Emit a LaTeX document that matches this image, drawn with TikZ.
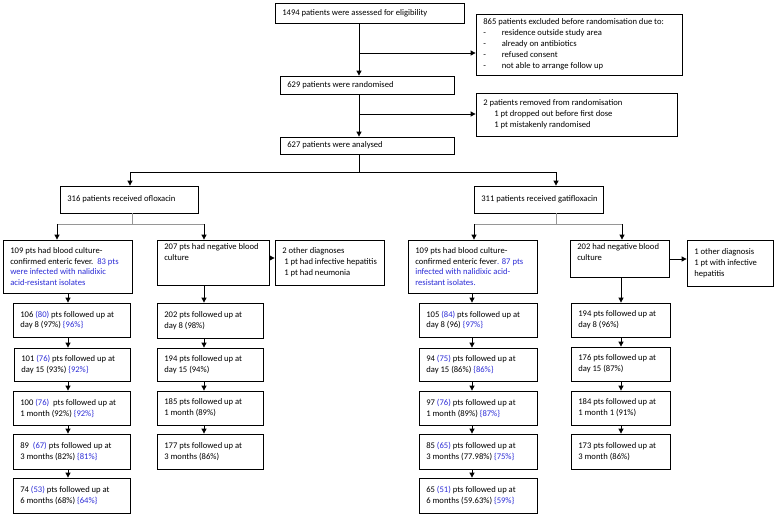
\documentclass[tikz,border=0pt]{standalone}
\usepackage{fontspec}
\setmainfont{Carlito}
\usetikzlibrary{arrows.meta,calc}
\definecolor{nalblue}{RGB}{45,45,215}
\definecolor{brgray}{RGB}{150,150,150}
\newcommand\blu[1]{\textcolor{nalblue}{#1}}
\newcommand\mybox[6]{%
  \node[box,minimum width={#4-#2},minimum height={#5-#3}] (#1) at ({(#2+#4)/2},{(#3+#5)/2}) {};
  \node[txt,anchor=west] (#1t) at ([xshift=7.5pt]#1.west) {#6};}
\newcommand\myboxt[6]{%
  \node[box,minimum width={#4-#2},minimum height={#5-#3}] (#1) at ({(#2+#4)/2},{(#3+#5)/2}) {};
  \node[txt,anchor=north west] (#1t) at ([xshift=7.5pt,yshift=-4pt]#1.north west) {#6};}
\tikzset{
  box/.style={draw=black,line width=0.8pt,inner sep=0pt,fill=white},
  txt/.style={inner sep=0pt,align=left,font=\fontsize{8.6}{10.9}\selectfont},
  arr/.style={line width=0.8pt,-{Triangle[length=5pt,width=5pt]}},
  ln/.style={line width=0.8pt},
  gln/.style={line width=0.8pt,draw=brgray},
}
\begin{document}
\begin{tikzpicture}[x=1pt,y=-1pt]
\useasboundingbox[fill=white] (0,0) rectangle (778,517);
% top part
\mybox{b1494}{275}{3}{464}{23}{1494 patients were assessed for eligibility}
\mybox{b865}{476}{14}{682}{75}{865 patients excluded before randomisation due to:\\
\makebox[18.5pt][l]{-}residence outside study area\\
\makebox[18.5pt][l]{-}already on antibiotics\\
\makebox[18.5pt][l]{-}refused consent\\
\makebox[18.5pt][l]{-}not able to arrange follow up}
\mybox{b629}{280}{76}{454}{94}{629 patients were randomised}
\mybox{b2rem}{476}{93}{677}{136}{2 patients removed from randomisation\\
\hspace*{11pt}1 pt dropped out before first dose\\
\hspace*{11pt}1 pt mistakenly randomised}
\mybox{b627}{280}{137}{454}{154}{627 patients were analysed}
\mybox{b316}{60}{186}{198}{213}{316 patients received ofloxacin}
\mybox{b311}{474}{186}{603}{213}{311 patients received gatifloxacin}
% third level
\mybox{bA}{3}{240}{132}{293}{109 pts had blood culture-\\
confirmed enteric fever.\ \ \blu{83 pts}\\
\blu{were infected with nalidixic}\\
\blu{acid-resistant isolates}}
\myboxt{bB}{157}{240}{269}{285}{207 pts had negative blood\\culture}
\mybox{bB2}{275}{240}{384}{285}{2 other diagnoses\\
\hspace*{2pt}1 pt had infective hepatitis\\
\hspace*{2pt}1 pt had neumonia}
\mybox{bC}{408}{240}{537}{293}{109 pts had blood culture-\\
confirmed enteric fever\blu{. 87 pts}\\
\blu{infected with nalidixic acid-}\\
\blu{resistant isolates.}}
\myboxt{bD}{570}{240}{669}{277}{202 had negative blood\\culture}
\mybox{bD2}{687}{240}{773}{286}{1 other diagnosis\\
1 pt with infective\\
hepatitis}
% ofloxacin follow-ups
\mybox{a1}{13}{303}{130}{337}{106 \blu{(80)} pts followed up at\\day 8 (97\%) \blu{\{96\%\}}}
\mybox{a2}{14}{348}{130}{381}{101 \blu{(76)} pts followed up at\\day 15 (93\%) \blu{\{92\%\}}}
\mybox{a3}{13}{391}{130}{425}{100 \blu{(76)}\ \ pts followed up at\\1 month (92\%) \blu{\{92\%\}}}
\mybox{a4}{13}{434}{130}{469}{89\ \ \blu{(67)} pts followed up at\\3 months (82\%) \blu{\{81\%\}}}
\mybox{a5}{13}{478}{130}{513}{74 \blu{(53)} pts followed up at\\6 months (68\%) \blu{\{64\%\}}}
\mybox{n1}{157}{303}{263}{338}{202 pts followed up at\\day 8 (98\%)}
\mybox{n2}{157}{348}{263}{381}{194 pts followed up at\\day 15 (94\%)}
\mybox{n3}{157}{391}{263}{425}{185 pts followed up at\\1 month (89\%)}
\mybox{n4}{157}{434}{263}{469}{177 pts followed up at\\3 months (86\%)}
% gatifloxacin follow-ups
\mybox{c1}{419}{303}{537}{337}{105 \blu{(84)} pts followed up at\\day 8 (96) \blu{\{97\%\}}}
\mybox{c2}{419}{348}{537}{381}{94 \blu{(75)} pts followed up at\\day 15 (86\%) \blu{\{86\%\}}}
\mybox{c3}{419}{391}{537}{425}{97 \blu{(76)} pts followed up at\\1 month (89\%) \blu{\{87\%\}}}
\mybox{c4}{419}{434}{537}{469}{85 \blu{(65)} pts followed up at\\3 months (77.98\%) \blu{\{75\%\}}}
\mybox{c5}{419}{478}{537}{513}{65 \blu{(51)} pts followed up at\\6 months (59.63\%) \blu{\{59\%\}}}
\mybox{m1}{571}{303}{670}{337}{194 pts followed up at\\day 8 (96\%)}
\mybox{m2}{571}{347}{670}{381}{176 pts followed up at\\day 15 (87\%)}
\mybox{m3}{571}{391}{670}{425}{184 pts followed up at\\1 month 1 (91\%)}
\mybox{m4}{571}{434}{670}{469}{173 pts followed up at\\3 month (86\%)}
% column coordinates
\coordinate (colM) at (359,0);
\coordinate (j1) at (359,53);
\coordinate (j2) at (359,114);
\coordinate (j3) at (359,172);
\coordinate (k1) at (130,172);
\coordinate (k2) at (556,172);
\coordinate (h1) at (132,224);
\coordinate (hA) at (57,224);
\coordinate (hB) at (204,224);
\coordinate (h2) at (556,224);
\coordinate (hC) at (474,224);
\coordinate (hD) at (622,224);
\coordinate (colA) at (68,0);
\coordinate (colB) at (204,0);
\coordinate (colC) at (472,0);
\coordinate (colD) at (621,0);
\coordinate (e1) at (269,258);
\coordinate (e2) at (669,259);
% connectors top
\draw[arr] (b1494.south -| colM) -- (b629.north -| colM);
\draw[arr] (j1) -- (j1 -| b865.west);
\draw[arr] (b629.south -| colM) -- (b627.north -| colM);
\draw[arr] (j2) -- (j2 -| b2rem.west);
\draw[ln] (b627.south -| colM) -- (j3);
\draw[ln] (k1) -- (k2);
\draw[arr] (k1) -- (k1 |- b316.north);
\draw[arr] (k2) -- (k2 |- b311.north);
% branches
\draw[gln] (b316.south -| h1) -- (h1);
\draw[gln] (hA) -- (hB);
\draw[arr] (hA) -- (hA |- bA.north);
\draw[arr] (hB) -- (hB |- bB.north);
\draw[gln] (b311.south -| h2) -- (h2);
\draw[gln] (hC) -- (hD);
\draw[arr] (hC) -- (hC |- bC.north);
\draw[arr] (hD) -- (hD |- bD.north);
\draw[arr] (e1 -| bB.east) -- (e1 -| bB2.west);
\draw[arr] (e2 -| bD.east) -- (e2 -| bD2.west);
% follow-up chains
\draw[arr] (bA.south -| colA) -- (a1.north -| colA);
\draw[arr] (a1.south -| colA) -- (a2.north -| colA);
\draw[arr] (a2.south -| colA) -- (a3.north -| colA);
\draw[arr] (a3.south -| colA) -- (a4.north -| colA);
\draw[arr] (a4.south -| colA) -- (a5.north -| colA);
\draw[arr] (bB.south -| colB) -- (n1.north -| colB);
\draw[arr] (n1.south -| colB) -- (n2.north -| colB);
\draw[arr] (n2.south -| colB) -- (n3.north -| colB);
\draw[arr] (n3.south -| colB) -- (n4.north -| colB);
\draw[arr] (bC.south -| colC) -- (c1.north -| colC);
\draw[arr] (c1.south -| colC) -- (c2.north -| colC);
\draw[arr] (c2.south -| colC) -- (c3.north -| colC);
\draw[arr] (c3.south -| colC) -- (c4.north -| colC);
\draw[arr] (c4.south -| colC) -- (c5.north -| colC);
\draw[arr] (bD.south -| colD) -- (m1.north -| colD);
\draw[arr] (m1.south -| colD) -- (m2.north -| colD);
\draw[arr] (m2.south -| colD) -- (m3.north -| colD);
\draw[arr] (m3.south -| colD) -- (m4.north -| colD);
\end{tikzpicture}
\end{document}
